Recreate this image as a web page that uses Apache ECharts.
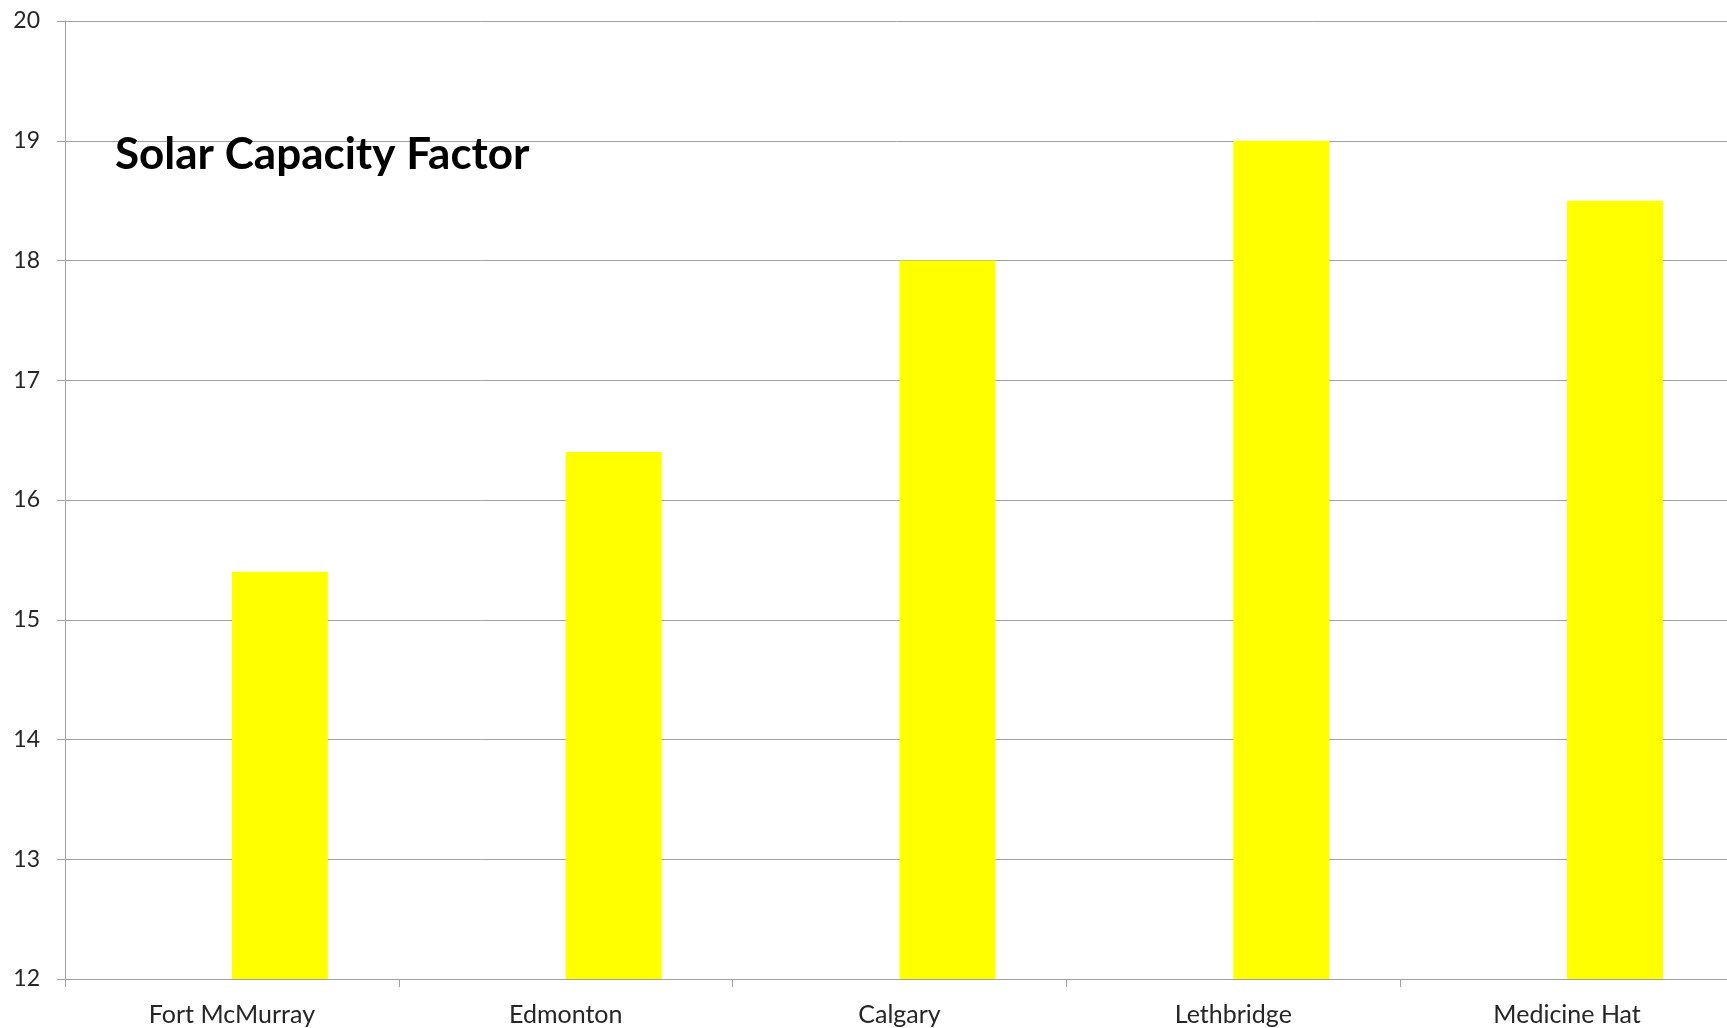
<!DOCTYPE html>
<html>
<head>
<meta charset="utf-8">
<script src="https://cdn.jsdelivr.net/npm/echarts@6/dist/echarts.min.js"></script>
<style>
html,body{margin:0;padding:0;background:#fff;}
#chart{width:1727px;height:1028px;}
</style>
</head>
<body>
<div id="chart"></div>
<script>
var categories = ['Fort McMurray', 'Edmonton', 'Calgary', 'Lethbridge', 'Medicine Hat'];
var capacityFactor = [15.4, 16.4, 18.0, 19.0, 18.5];
var emptySeries = ['-', '-', '-', '-', '-'];
var yMin = 12, yMax = 20, yStep = 1;
var titleText = 'Solar Capacity Factor';

var chart = echarts.init(document.getElementById('chart'));
chart.setOption({
  backgroundColor: '#ffffff',
  animation: false,
  title: {
    text: titleText,
    left: 110,
    top: 128,
    textStyle: { fontFamily: 'Lato', fontWeight: 'bold', fontSize: 44, color: '#000000' }
  },
  grid: { left: 65, right: -7, top: 21, bottom: 49, containLabel: false, outerBoundsMode: 'none' },
  xAxis: {
    type: 'category',
    data: categories,
    boundaryGap: true,
    axisLine: { show: true, lineStyle: { color: '#a0a0a0', width: 1 } },
    axisTick: { show: true, length: 8, inside: false, lineStyle: { color: '#a0a0a0' } },
    axisLabel: { margin: 23, fontFamily: 'Lato', fontSize: 25, color: '#262626' },
    splitLine: { show: false }
  },
  yAxis: {
    type: 'value',
    min: yMin,
    max: yMax,
    interval: yStep,
    axisLine: { show: true, lineStyle: { color: '#a0a0a0', width: 1 } },
    axisTick: { show: true, length: 8, inside: false, lineStyle: { color: '#a0a0a0' } },
    axisLabel: { margin: 25, fontFamily: 'Lato', fontSize: 23, color: '#262626' },
    splitLine: { show: true, lineStyle: { color: '#a0a0a0', width: 1 } }
  },
  series: [
    { type: 'bar', data: emptySeries, barWidth: 96, barGap: '0%', itemStyle: { color: '#ffff00' } },
    { type: 'bar', data: capacityFactor, barWidth: 96, barGap: '0%', itemStyle: { color: '#ffff00' } }
  ]
});
</script>
</body>
</html>
